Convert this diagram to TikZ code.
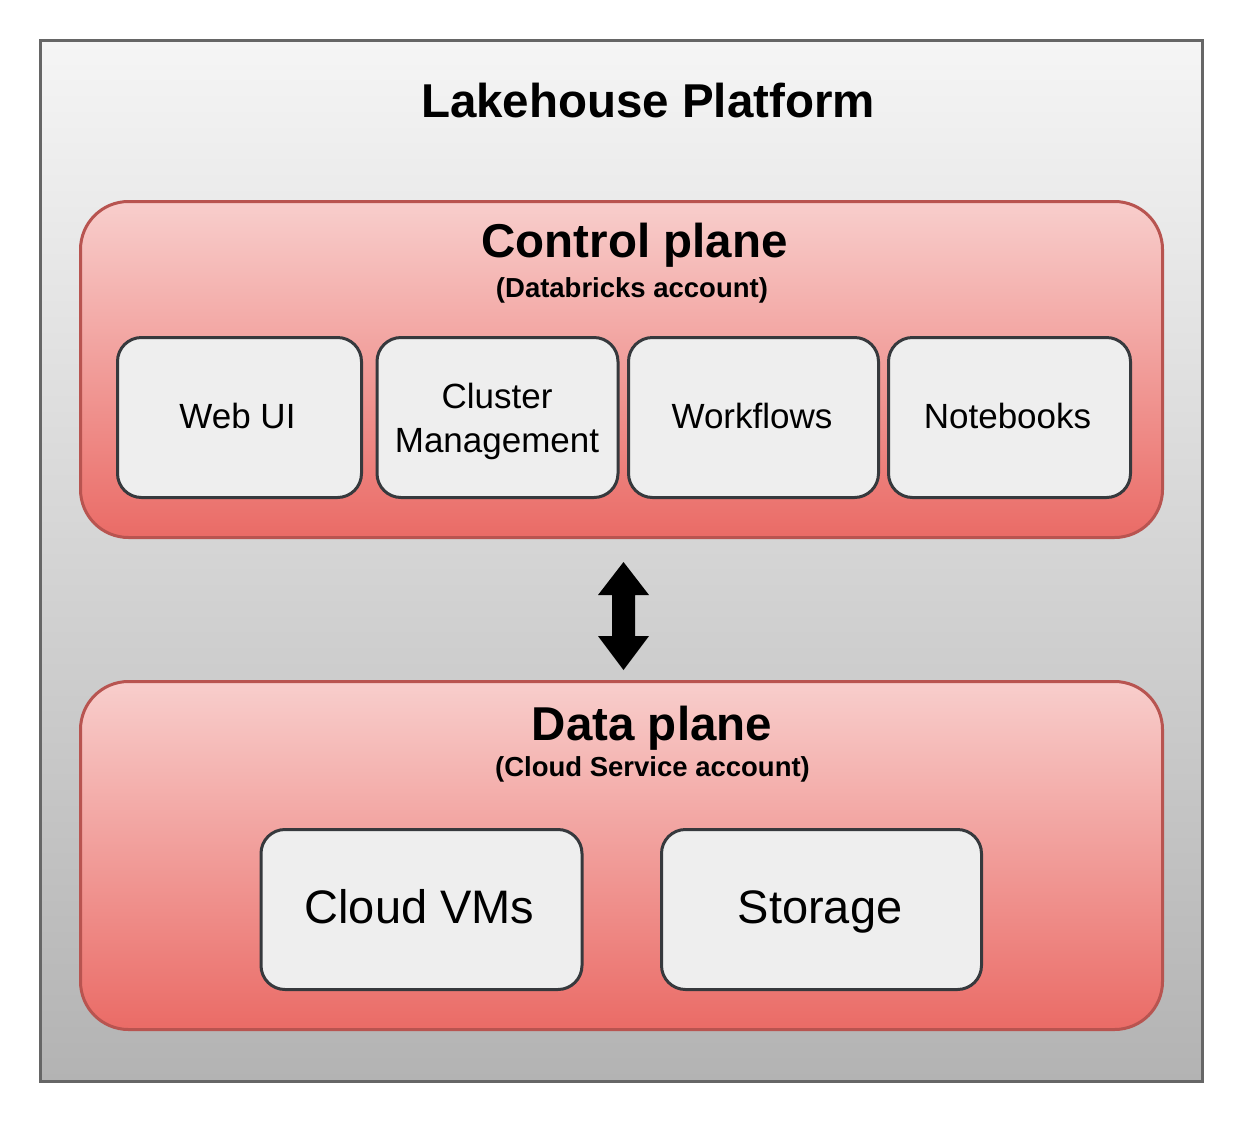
\documentclass[tikz,border=0pt]{standalone}
\usepackage{fontspec}
\setmainfont{Liberation Sans}
\usetikzlibrary{calc}
\definecolor{outerTop}{HTML}{F5F5F5}
\definecolor{outerBot}{HTML}{B3B3B3}
\definecolor{outerLine}{HTML}{666666}
\definecolor{planeTop}{HTML}{F8CECC}
\definecolor{planeBot}{HTML}{EA6B66}
\definecolor{planeLine}{HTML}{B85450}
\definecolor{itemFill}{HTML}{EEEEEE}
\definecolor{itemLine}{HTML}{36393D}
\tikzset{
  outerbox/.style={draw=outerLine, line width=3pt, top color=outerTop, bottom color=outerBot, inner sep=0pt},
  planebox/.style={draw=planeLine, line width=3pt, top color=planeTop, bottom color=planeBot, rounded corners=48pt, inner sep=0pt},
  itembox/.style={draw=itemLine, line width=3pt, fill=itemFill, rounded corners=24pt, inner sep=0pt},
  bigtitle/.style={font=\fontsize{47.5}{57}\selectfont\bfseries, anchor=base, inner sep=0pt},
  subtitle/.style={font=\fontsize{27.5}{33}\selectfont\bfseries, anchor=base, inner sep=0pt},
  itemtext/.style={font=\fontsize{35}{42}\selectfont, anchor=base, inner sep=0pt},
  dataitemtext/.style={font=\fontsize{47}{56}\selectfont, anchor=base, inner sep=0pt},
}
\begin{document}
\begin{tikzpicture}[x=1pt,y=-1pt]
\useasboundingbox (0,0) rectangle (1248,1128);
\fill[white] (0,0) rectangle (1248,1128);
% outer platform
\node[outerbox, minimum width=1162pt, minimum height=1041pt] (outer) at (621.5,561) {};
\node[bigtitle] (ttl) at (648,117) {Lakehouse Platform};
% control plane
\node[planebox, minimum width=1082pt, minimum height=336pt] (cp) at (621.5,369.5) {};
\node[bigtitle] (cpt) at (634.5,257) {Control plane};
\node[subtitle] (cps) at (632,297) {(Databricks account)};
\node[itembox, minimum width=244pt, minimum height=160pt] (webui) at (239.5,417.5) {};
\node[itembox, minimum width=241pt, minimum height=160pt] (cluster) at (497.5,417.5) {};
\node[itembox, minimum width=250pt, minimum height=160pt] (wf) at (753.5,417.5) {};
\node[itembox, minimum width=242pt, minimum height=160pt] (nb) at (1009.5,417.5) {};
\node[itemtext] at (237.5,428) {Web UI};
\node[itemtext] at (497,408) {Cluster};
\node[itemtext] at (497,452) {Management};
\node[itemtext] at (752,428) {Workflows};
\node[itemtext] at (1007.5,428) {Notebooks};
% data plane
\node[planebox, minimum width=1082pt, minimum height=348pt] (dp) at (621.5,855.5) {};
\node[bigtitle] (dpt) at (652,740) {Data plane};
\node[subtitle] (dps) at (652.5,776) {(Cloud Service account)};
\node[itembox, minimum width=321pt, minimum height=160pt] (vms) at (421.5,909.5) {};
\node[itembox, minimum width=320pt, minimum height=160pt] (st) at (821.5,909.5) {};
\node[dataitemtext] at (419.5,923) {Cloud VMs};
\node[dataitemtext] at (820,923) {Storage};
% double arrow between planes
\coordinate (atop) at ($(cp.south)+(2,23)$);
\coordinate (abot) at ($(dp.north)+(2,-10)$);
\fill[black] (atop) -- ($(atop)+(25.5,33)$) -- ($(atop)+(11.5,33)$)
  -- ($(abot)+(11.5,-34)$) -- ($(abot)+(25.5,-34)$) -- (abot)
  -- ($(abot)+(-25.5,-34)$) -- ($(abot)+(-11.5,-34)$)
  -- ($(atop)+(-11.5,33)$) -- ($(atop)+(-25.5,33)$) -- cycle;
\end{tikzpicture}
\end{document}
